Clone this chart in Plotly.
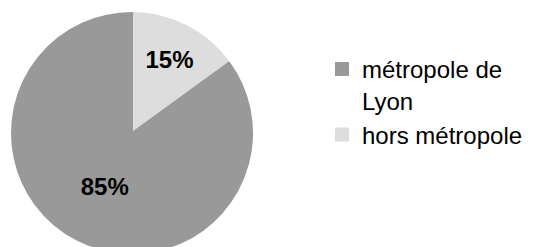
import plotly.graph_objects as go

categories = ["hors métropole", "métropole de<br>Lyon"]
values = [15, 85]
colors = ["#dddddd", "#999999"]

W, H = 533, 254
top = 12
plot_h = H - top

fig = go.Figure(
    go.Pie(
        labels=categories,
        values=values,
        marker=dict(colors=colors, line=dict(width=2, color=colors)),
        sort=False,
        direction="clockwise",
        rotation=0,
        textinfo="percent",
        texttemplate="%{percent:.0%}",
        textposition="inside",
        insidetextorientation="horizontal",
        textfont=dict(family="Liberation Sans", size=24, color="#000000", weight="bold"),
        domain=dict(x=[12 / W, 252 / W], y=[0, 1]),
        hoverinfo="none",
    )
)

fig.update_layout(
    width=W,
    height=H,
    margin=dict(l=0, r=0, t=top, b=0),
    paper_bgcolor="#ffffff",
    plot_bgcolor="#ffffff",
    showlegend=True,
    legend=dict(
        x=322 / W,
        xanchor="left",
        y=(H - 47) / plot_h,
        yanchor="top",
        valign="top",
        traceorder="reversed",
        font=dict(family="Liberation Sans", size=24, color="#000000"),
        bgcolor="rgba(0,0,0,0)",
        borderwidth=0,
        tracegroupgap=0,
    ),
)

fig.write_html(
    "out.html",
    config={"displayModeBar": False},
    post_script="document.body.style.margin='0';document.body.style.overflow='hidden';",
)
